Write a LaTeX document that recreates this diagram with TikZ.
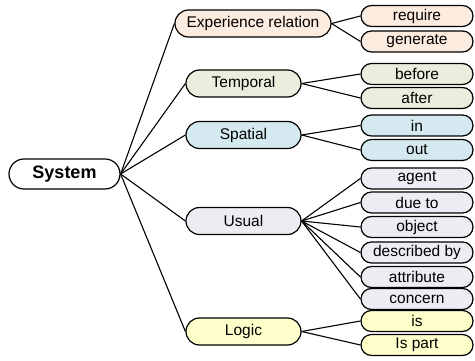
\documentclass[tikz,border=0pt]{standalone}
\usepackage{fontspec}
\setmainfont{Liberation Sans}
\definecolor{expfill}{HTML}{FCEBDF}
\definecolor{tempfill}{HTML}{EAEEDC}
\definecolor{spatfill}{HTML}{D4EAF0}
\definecolor{usualfill}{HTML}{EEEBF2}
\definecolor{logicfill}{HTML}{FFFFCC}
\begin{document}
\begin{tikzpicture}[x=1pt,y=-1pt,
    root/.style={draw,line width=1.2pt,rounded corners=15pt,minimum width=111pt,
      minimum height=30pt,inner sep=0pt,font=\fontsize{18}{20}\selectfont\bfseries},
    topic/.style={draw,line width=1.2pt,rounded corners=13.5pt,minimum width=115pt,
      minimum height=27pt,inner sep=0pt,font=\fontsize{15.5}{18}\selectfont},
    leaf/.style={draw,line width=1.2pt,rounded corners=10.5pt,minimum width=112pt,
      minimum height=21pt,inner sep=0pt,font=\fontsize{15.5}{18}\selectfont},
    link/.style={line width=1.1pt},
  ]
  \useasboundingbox (0,0) rectangle (475,361);
  \node[root] (sys) at (64.5,174) {System};
  % middle level
  \node[topic,fill=expfill,minimum width=156pt] (exp) at (253,23.5) {Experience relation};
  \node[topic,fill=tempfill] (temp) at (243.5,83.5) {Temporal};
  \node[topic,fill=spatfill] (spat) at (243.5,135) {Spatial};
  \node[topic,fill=usualfill] (usual) at (243.5,221) {Usual};
  \node[topic,fill=logicfill] (logic) at (243.5,331.5) {Logic};
  \foreach \t in {exp,temp,spat,usual,logic}
    \draw[link] (sys.east) -- (\t.west);
  % leaves
  \foreach \n/\y/\txt/\t/\c in {
      require/16/require/exp/expfill,
      generate/41.5/generate/exp/expfill,
      before/74/before/temp/tempfill,
      after/98/after/temp/tempfill,
      in/125.5/in/spat/spatfill,
      out/150/out/spat/spatfill,
      agent/178.5/agent/usual/usualfill,
      dueto/202.5/due to/usual/usualfill,
      object/227/object/usual/usualfill,
      descr/252.5/described by/usual/usualfill,
      attr/277/attribute/usual/usualfill,
      concern/299/concern/usual/usualfill,
      is/321/is/logic/logicfill,
      ispart/345/Is part/logic/logicfill}{
    \node[leaf,fill=\c] (\n) at (417,\y) {\txt};
    \draw[link] (\t.east) -- (\n.west);
  };
\end{tikzpicture}
\end{document}
